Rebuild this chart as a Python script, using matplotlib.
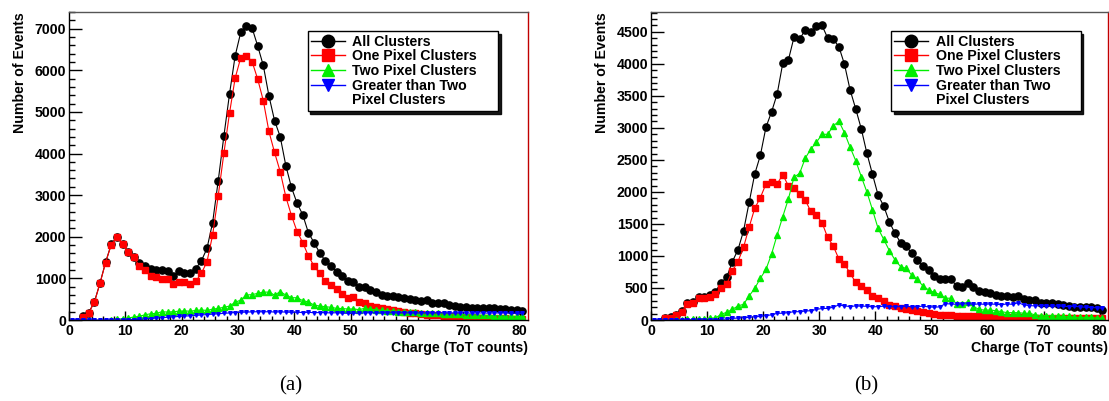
import matplotlib.pyplot as plt
from matplotlib.lines import Line2D
from matplotlib.ticker import MultipleLocator
from matplotlib import font_manager
import numpy as np

plt.rcParams['font.family'] = 'Liberation Sans'
bold = font_manager.FontProperties(family='Liberation Sans', weight='bold', size=10.2)

# charge bins: value i of a list belongs to bin (first + i), centre at bin + 0.5
labels = ['All Clusters', 'One Pixel Clusters', 'Two Pixel Clusters', 'Greater than Two']

# (a)
a_all_first = 2
a_all = [85, 180, 430, 885, 1390, 1815, 2000, 1830, 1645, 1520,
         1370, 1305, 1220, 1200, 1200, 1185, 1060, 1180, 1140, 1120,
         1235, 1420, 1720, 2340, 3350, 4420, 5430, 6345, 6915, 7070,
         7020, 6585, 6115, 5385, 4790, 4405, 3710, 3185, 2805, 2530,
         2100, 1860, 1620, 1420, 1300, 1160, 1050, 945, 920, 785,
         785, 720, 665, 595, 580, 565, 545, 520, 500, 485,
         465, 470, 400, 400, 400, 370, 335, 315, 315, 300,
         290, 290, 290, 280, 270, 255, 235, 230, 215]
a_one_first = 2
a_one = [80, 175, 425, 880, 1380, 1810, 1990, 1820, 1635, 1505,
         1300, 1200, 1065, 1040, 985, 985, 860, 920, 905, 870,
         930, 1120, 1400, 2040, 2990, 4005, 4970, 5810, 6305, 6345,
         6210, 5790, 5270, 4530, 4025, 3565, 2960, 2510, 2125, 1860,
         1540, 1300, 1120, 935, 835, 740, 630, 520, 545, 440,
         400, 345, 310, 290, 260, 240, 215, 195, 175, 160,
         145, 130, 120, 110, 100, 92, 85, 78, 72, 66,
         60, 55, 50, 46, 42, 38, 35, 32, 30]
a_two_first = 7
a_two = [10, 20, 30, 50, 70, 90, 125, 150, 160, 200,
         190, 200, 210, 220, 210, 230, 240, 230, 260, 280,
         305, 335, 425, 480, 600, 610, 640, 670, 670, 600,
         680, 600, 535, 535, 465, 435, 360, 335, 320, 305,
         280, 275, 265, 265, 250, 280, 255, 250, 230, 225,
         215, 200, 195, 200, 190, 180, 175, 165, 160, 150,
         145, 140, 135, 130, 125, 120, 115, 110, 105, 100,
         95, 90, 88, 85]
a_gt_first = 0
a_gt = [0, 0, 0, 0, 0, 0, 0, 0, 0, 0,
        5, 10, 15, 25, 35, 45, 55, 65, 75, 85,
        95, 100, 110, 120, 130, 140, 150, 160, 170, 180,
        185, 190, 195, 200, 195, 200, 190, 195, 190, 185,
        185, 180, 185, 175, 180, 175, 170, 175, 165, 160,
        160, 165, 170, 175, 170, 175, 170, 175, 170, 175,
        170, 168, 172, 170, 168, 170, 172, 168, 170, 172,
        168, 165, 170, 168, 165, 168, 170, 172, 165, 160, 160]

# (b)
b_all_first = 2
b_all = [30, 40, 85, 140, 260, 285, 355, 360, 390, 445,
         585, 665, 910, 1095, 1390, 1835, 2280, 2570, 3010, 3250,
         3530, 4010, 4060, 4415, 4385, 4530, 4500, 4585, 4600, 4405,
         4385, 4270, 3995, 3595, 3300, 2985, 2605, 2275, 1950, 1780,
         1535, 1355, 1210, 1155, 1040, 940, 845, 780, 690, 640,
         635, 635, 530, 520, 585, 520, 450, 430, 420, 390,
         380, 370, 360, 375, 335, 320, 305, 270, 270, 270,
         250, 240, 220, 205, 205, 205, 200, 180, 155]
b_one_first = 2
b_one = [25, 35, 80, 130, 250, 270, 345, 340, 365, 400,
         505, 560, 770, 910, 1135, 1450, 1745, 1910, 2125, 2160,
         2125, 2270, 2095, 2055, 1970, 1875, 1695, 1640, 1520, 1290,
         1155, 955, 875, 730, 588, 530, 470, 375, 340, 300,
         235, 215, 195, 170, 150, 135, 120, 105, 95, 85,
         78, 74, 70, 66, 63, 60, 57, 54, 52, 50,
         48, 46, 44, 42, 40, 38, 36, 35, 34, 33,
         32, 31, 30, 29, 28, 27, 26, 25, 24]
b_two_first = 4
b_two = [5, 5, 8, 10, 15, 20, 30, 30, 90, 120,
         165, 220, 245, 375, 495, 650, 790, 1030, 1330, 1615,
         1890, 2230, 2290, 2525, 2670, 2775, 2900, 2900, 3030, 3105,
         2925, 2700, 2490, 2240, 2000, 1720, 1430, 1260, 1085, 940,
         835, 805, 700, 635, 530, 470, 430, 400, 340, 340,
         250, 250, 285, 210, 165, 155, 155, 145, 130, 115,
         115, 115, 105, 105, 80, 70, 70, 70, 65, 55,
         55, 40, 40, 40, 40, 30, 30]
b_gt_first = 0
b_gt = [0, 0, 0, 0, 0, 0, 0, 0, 0, 0, 0, 0,
        10, 15, 25, 30, 35, 40, 50, 55, 70, 80,
        105, 105, 115, 130, 130, 140, 145, 165, 180, 180,
        200, 235, 220, 210, 220, 215, 215, 205, 210, 215,
        210, 205, 210, 215, 205, 210, 215, 205, 200, 205,
        255, 250, 245, 250, 255, 245, 250, 245, 250, 245,
        240, 250, 245, 270, 235, 225, 220, 225, 220, 215,
        220, 215, 210, 215, 205, 200, 195, 190, 185]

styles = [('black', 'o', 5.2), ('red', 's', 5.0), ('#00ee00', '^', 4.0), ('blue', 'v', 2.6)]


def draw(ax, series, ymax, ymajor, yminor, leg_x):
    for (first, vals), (col, mk, ms), lab in zip(series, styles, labels):
        x = np.arange(first, first + len(vals)) + 0.5
        ax.plot(x, vals, color=col, marker=mk, ms=ms, mec=col, lw=0.8, label=lab)
    ax.set_xlim(0, 81.5)
    ax.set_ylim(0, ymax)
    ax.xaxis.set_major_locator(MultipleLocator(10))
    ax.xaxis.set_minor_locator(MultipleLocator(2))
    ax.yaxis.set_major_locator(MultipleLocator(ymajor))
    ax.yaxis.set_minor_locator(MultipleLocator(yminor))
    ax.tick_params(axis='both', which='both', direction='in', top=False, right=False,
                   labelsize=10.2, width=1)
    ax.tick_params(axis='y', which='major', length=9.5, pad=2)
    ax.tick_params(axis='y', which='minor', length=4.5)
    ax.tick_params(axis='x', which='major', length=6.5, pad=3)
    ax.tick_params(axis='x', which='minor', length=3.2)
    for t in ax.get_xticklabels() + ax.get_yticklabels():
        t.set_fontweight('bold')
    ax.spines['right'].set_color('#c00000')
    ax.spines['top'].set_color('#555555')
    for s in ax.spines.values():
        s.set_linewidth(1)
    ax.set_xlabel('Charge (ToT counts)', fontproperties=bold, loc='right', labelpad=2)
    ax.set_ylabel('Number of Events', fontproperties=bold, loc='top')
    ax.yaxis.set_label_coords(-0.092, 1.0)

    handles = [Line2D([], [], color=c, marker=m, ms=9, mec=c, lw=1) for c, m, _ in styles]
    handles.append(Line2D([], [], color='none'))
    ax.legend(handles, labels + ['Pixel Clusters'], loc='upper left',
              bbox_to_anchor=(leg_x, 0.688, 0.415, 0.25), mode='expand',
              borderaxespad=0, fancybox=False,
              shadow={'color': 'black', 'alpha': 0.9}, edgecolor='black',
              framealpha=1, prop=bold, borderpad=0.25, labelspacing=0.05,
              handlelength=2.4, handletextpad=0.5)
    ax.get_legend().get_frame().set_linewidth(1)


fig = plt.figure(figsize=(11.09, 4.01), dpi=100)
ax_a = fig.add_axes([69 / 1109, 81 / 401, 459 / 1109, 308 / 401])
ax_b = fig.add_axes([651 / 1109, 81 / 401, 457 / 1109, 308 / 401])

draw(ax_a, [(a_all_first, a_all), (a_one_first, a_one), (a_two_first, a_two), (a_gt_first, a_gt)],
     7400, 1000, 200, 0.52)
draw(ax_b, [(b_all_first, b_all), (b_one_first, b_one), (b_two_first, b_two), (b_gt_first, b_gt)],
     4810, 500, 100, 0.525)

fig.text(291 / 1109, 1 - 386 / 401, '(a)', family='Liberation Serif', weight='normal',
         size=15, ha='center', va='center')
fig.text(866 / 1109, 1 - 386 / 401, '(b)', family='Liberation Serif', weight='normal',
         size=15, ha='center', va='center')

fig.savefig('out.png', dpi=100)
